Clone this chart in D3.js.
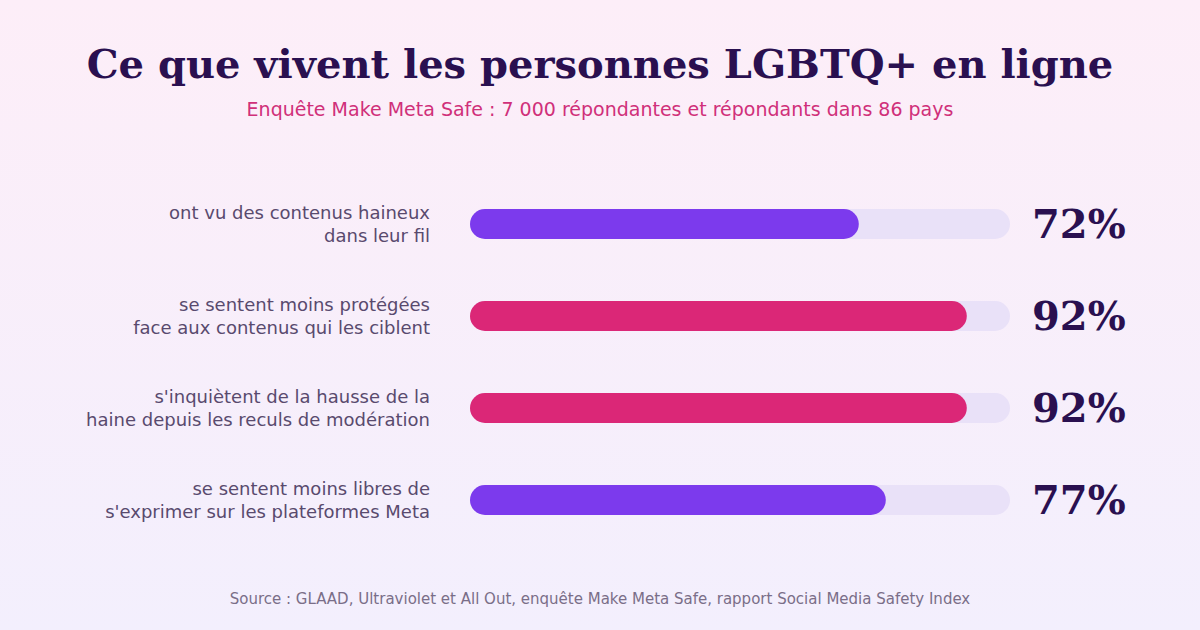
<!DOCTYPE html>
<html>
<head>
<meta charset="utf-8">
<script src="https://cdn.jsdelivr.net/npm/d3@7"></script>
<style>
  body { margin: 0; }
  svg { display: block; }
</style>
</head>
<body>
<div id="chart"></div>
<script>
const labels = [
    ['ont vu des contenus haineux', 'dans leur fil'],
    ['se sentent moins protégées', 'face aux contenus qui les ciblent'],
    ["s'inquiètent de la hausse de la", 'haine depuis les reculs de modération'],
    ['se sentent moins libres de', "s'exprimer sur les plateformes Meta"],
];
const values = [72, 92, 92, 77];
const colors = ['#7c3aed', '#db2777', '#db2777', '#7c3aed'];

const chart_width = 1200;
const chart_height = 630;

const svg = d3.select('#chart')
    .append('svg')
    .attr('width', chart_width)
    .attr('height', chart_height);

// Background gradient
const grad = svg.append('defs')
    .append('linearGradient')
    .attr('id', 'bg')
    .attr('x1', 0).attr('y1', 0).attr('x2', 0).attr('y2', 1);
grad.append('stop').attr('offset', '0%').attr('stop-color', '#fdeef8');
grad.append('stop').attr('offset', '100%').attr('stop-color', '#f3effd');

svg.append('rect')
    .attr('width', chart_width)
    .attr('height', chart_height)
    .attr('fill', 'url(#bg)');

// Titles
svg.append('text')
    .attr('x', chart_width / 2)
    .attr('y', 78)
    .attr('text-anchor', 'middle')
    .attr('font-family', 'DejaVu Serif')
    .attr('font-weight', 'bold')
    .attr('font-size', 40)
    .attr('fill', '#2a1050')
    .text('Ce que vivent les personnes LGBTQ+ en ligne');

svg.append('text')
    .attr('x', chart_width / 2)
    .attr('y', 116)
    .attr('text-anchor', 'middle')
    .attr('font-family', 'DejaVu Sans')
    .attr('font-size', 19)
    .attr('fill', '#d0307a')
    .text('Enquête Make Meta Safe : 7 000 répondantes et répondants dans 86 pays');

// Scales
const x_scale = d3.scaleLinear()
    .domain([0, 100])
    .range([470, 1010]);

const y_scale = d3.scaleBand()
    .domain(d3.range(values.length))
    .range([178, 546]);

const bar_h = 30;

const rows = svg.append('g')
    .selectAll('g')
    .data(values)
    .enter()
    .append('g')
    .attr('transform', (d, i) => `translate(0, ${y_scale(i) + y_scale.bandwidth() / 2})`);

// Track
rows.append('rect')
    .attr('x', x_scale(0))
    .attr('y', -bar_h / 2)
    .attr('width', x_scale(100) - x_scale(0))
    .attr('height', bar_h)
    .attr('rx', bar_h / 2)
    .attr('fill', '#e9e1f8');

// Bar
rows.append('rect')
    .attr('x', x_scale(0))
    .attr('y', -bar_h / 2)
    .attr('width', d => x_scale(d) - x_scale(0))
    .attr('height', bar_h)
    .attr('rx', bar_h / 2)
    .attr('fill', (d, i) => colors[i]);

// Labels
rows.append('text')
    .attr('x', 430)
    .attr('text-anchor', 'end')
    .attr('font-family', 'DejaVu Sans')
    .attr('font-size', 18)
    .attr('fill', '#594a6e')
    .selectAll('tspan')
    .data((d, i) => labels[i])
    .enter()
    .append('tspan')
    .attr('x', 430)
    .attr('y', (d, j) => j === 0 ? -5 : 18)
    .text(d => d);

// Values
rows.append('text')
    .attr('x', 1032)
    .attr('y', 14)
    .attr('font-family', 'DejaVu Serif')
    .attr('font-weight', 'bold')
    .attr('font-size', 40)
    .attr('fill', '#2a1050')
    .text(d => d + '%');

// Source
svg.append('text')
    .attr('x', chart_width / 2)
    .attr('y', 604)
    .attr('text-anchor', 'middle')
    .attr('font-family', 'DejaVu Sans')
    .attr('font-size', 15)
    .attr('fill', '#7a6e88')
    .text('Source : GLAAD, Ultraviolet et All Out, enquête Make Meta Safe, rapport Social Media Safety Index');
</script>
</body>
</html>
